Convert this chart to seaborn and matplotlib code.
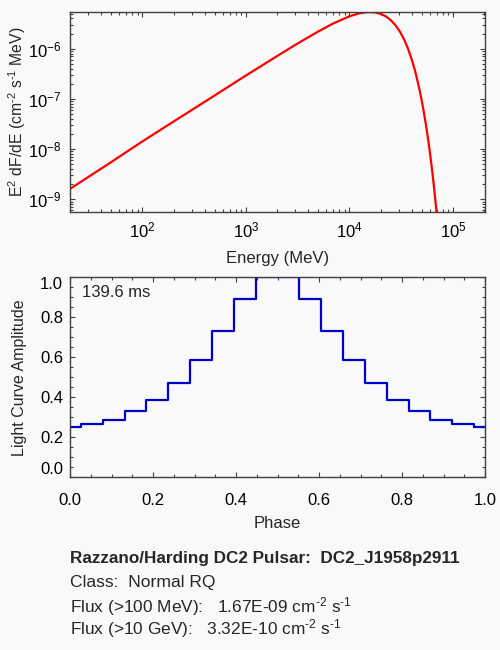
import numpy as np
import pandas as pd
import matplotlib
matplotlib.use("Agg")
import matplotlib.pyplot as plt
from matplotlib.ticker import LogLocator, FixedLocator, FormatStrFormatter
import seaborn as sns

# Spectrum: energy (MeV) and E^2 dF/dE
energy = [20, 50, 100, 200, 500, 1000, 2000, 3000, 5000, 7000, 10000,
          12500, 15000, 17500, 20000, 22500, 25000, 28000, 31000, 34000,
          37000, 40000, 43000, 46000, 49000, 52000, 55000, 58000, 61000,
          64000, 67000, 70000, 72000]
e2dfde = [1.61e-9, 5.5e-9, 1.42e-8, 3.53e-8, 1.17e-7, 2.92e-7, 7.11e-7,
          1.19e-6, 2.20e-6, 3.19e-6, 4.41e-6, 5.07e-6, 5.36e-6, 5.30e-6,
          4.94e-6, 4.40e-6, 3.72e-6, 2.89e-6, 2.12e-6, 1.48e-6, 9.7e-7,
          6.08e-7, 3.66e-7, 2.06e-7, 1.13e-7, 5.86e-8, 2.95e-8, 1.41e-8,
          6.41e-9, 2.79e-9, 1.16e-9, 4.67e-10, 2.5e-10]

# Light curve: bin edges in phase and amplitude per bin
phase_edges = [0.0, 0.026, 0.079, 0.132, 0.184, 0.237, 0.289, 0.342, 0.395,
               0.447, 0.5, 0.553, 0.605, 0.658, 0.711, 0.763, 0.816, 0.868,
               0.921, 0.974, 1.0]
amplitude = [0.253, 0.265, 0.288, 0.332, 0.387, 0.47, 0.587, 0.73, 0.89,
             1.0, 1.0, 0.89, 0.73, 0.587, 0.47, 0.387, 0.332, 0.288,
             0.265, 0.253]

period_text = "139.6 ms"
info_lines = ["Razzano/Harding DC2 Pulsar:  DC2_J1958p2911",
              "Class:  Normal RQ",
              r"Flux (>100 MeV):   1.67E-09 cm$^{\text{-}2}$ s$^{\text{-}1}$",
              r"Flux (>10 GeV):   3.32E-10 cm$^{\text{-}2}$ s$^{\text{-}1}$"]

sns.set_style("ticks")
plt.rcParams["font.family"] = ["Liberation Sans", "DejaVu Sans"]
plt.rcParams["mathtext.fontset"] = "custom"
plt.rcParams["mathtext.rm"] = "Liberation Sans"
plt.rcParams["mathtext.it"] = "Liberation Sans:italic"
plt.rcParams["mathtext.bf"] = "Liberation Sans:bold"
plt.rcParams["font.size"] = 12
plt.rcParams["axes.edgecolor"] = "#404040"
plt.rcParams["axes.linewidth"] = 1.0
plt.rcParams["xtick.color"] = "#404040"
plt.rcParams["ytick.color"] = "#404040"
plt.rcParams["xtick.labelcolor"] = "black"
plt.rcParams["ytick.labelcolor"] = "black"

bg = "#f9f9f9"
fig = plt.figure(figsize=(5, 6.5), dpi=100, facecolor=bg)
ax1 = fig.add_axes([0.14, 0.674, 0.83, 0.3077], facecolor=bg)
ax2 = fig.add_axes([0.14, 0.2657, 0.83, 0.3077], facecolor=bg)

# --- spectrum ---
spec = pd.DataFrame({"E": energy, "F": e2dfde})
sns.lineplot(data=spec, x="E", y="F", ax=ax1, color="red", linewidth=1.6)
ax1.set_xscale("log")
ax1.set_yscale("log")
ax1.set_xlim(20, 2.04e5)
ax1.set_ylim(5.6e-10, 5.4e-6)
ax1.xaxis.set_minor_locator(LogLocator(base=10, subs=np.arange(2, 10)))
ax1.yaxis.set_minor_locator(LogLocator(base=10, subs=np.arange(2, 10)))
ax1.set_xlabel("Energy (MeV)", fontsize=12, labelpad=8)
ax1.set_ylabel(r"E$^2$ dF/dE (cm$^{\text{-}2}$ s$^{\text{-}1}$ MeV)",
               fontsize=11.3, labelpad=0)

# --- light curve ---
lc = pd.DataFrame({"phase": phase_edges, "amp": amplitude + [amplitude[-1]]})
sns.lineplot(data=lc, x="phase", y="amp", ax=ax2, color="#0000cc",
             linewidth=1.6, drawstyle="steps-post")
ax2.set_xlim(0, 1)
ax2.set_ylim(0, 1)
major = [0.0, 0.2, 0.4, 0.6, 0.8, 1.0]
ax2.set_xticks(major)
ax2.set_yticks(major)
ax2.xaxis.set_minor_locator(FixedLocator(np.arange(0, 1.001, 0.05)))
ax2.yaxis.set_minor_locator(FixedLocator(np.arange(0, 1.001, 0.05)))
ax2.xaxis.set_major_formatter(FormatStrFormatter("%.1f"))
ax2.yaxis.set_major_formatter(FormatStrFormatter("%.1f"))
ax2.set_xlabel("Phase", fontsize=12, labelpad=6)
ax2.set_ylabel("Light Curve Amplitude", fontsize=11.5, labelpad=9)
ax2.text(0.028, 0.925, period_text, transform=ax2.transAxes,
         fontsize=12, va="center", ha="left")

for ax in (ax1, ax2):
    ax.tick_params(which="both", direction="in", top=True, right=True,
                   labelsize=12)
    ax.tick_params(which="major", length=3.5, width=0.8)
    ax.tick_params(which="minor", length=2, width=0.8)
    for s in ax.spines.values():
        s.set_visible(True)
ax1.tick_params(axis="both", which="major", pad=6)
ax2.tick_params(axis="x", which="major", pad=11)
ax2.tick_params(axis="y", which="major", pad=5)

ylabels = ax2.get_yticklabels()
ylabels[0].set_va("bottom")
ylabels[-1].set_va("top")

# --- info text ---
baselines = [562.7, 587.3, 612.7, 634]
sizes = [12.3, 12.6, 12.4, 12.4]
for i, (line, y) in enumerate(zip(info_lines, baselines)):
    fig.text(70 / 500, 1 - y / 650, line, fontsize=sizes[i], va="baseline",
             ha="left", fontweight="bold" if i == 0 else "normal")

fig.savefig("out.png", dpi=100, facecolor=bg)
